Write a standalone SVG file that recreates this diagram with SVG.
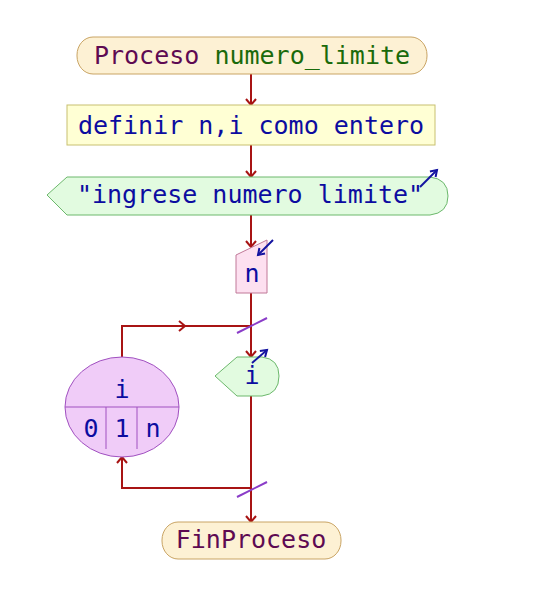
<svg xmlns="http://www.w3.org/2000/svg" width="535" height="594" viewBox="0 0 535 594">
  <style>
    text { font-family: "DejaVu Sans Mono", "Liberation Mono", monospace; font-size: 25px; text-anchor: middle; }
    .kw { fill: #5e0a52; }
    .nm { fill: #1a6a0a; }
    .tx { fill: #0c0ca0; }
    .flow { fill: none; stroke: #a81414; stroke-width: 2; }
    .cut { fill: none; stroke: #8a3cc8; stroke-width: 2; }
    .io { fill: none; stroke: #1414a0; stroke-width: 2; }
    .term { fill: #fdf1d4; stroke: #c9a464; stroke-width: 1; }
    .proc { fill: #ffffd4; stroke: #c8c070; stroke-width: 1; }
    .out { fill: #e2fbe0; stroke: #6cb86c; stroke-width: 1; }
    .in { fill: #fde0f0; stroke: #c07898; stroke-width: 1; }
    .loop { fill: #f0ccf8; stroke: #a050c0; stroke-width: 1; }
  </style>
  <defs>
    <marker id="arr" markerUnits="userSpaceOnUse" markerWidth="14" markerHeight="14" refX="0" refY="0" orient="auto" overflow="visible">
      <path d="M-6,-5 L0,0 L-6,5" fill="none" stroke="#a81414" stroke-width="2"/>
    </marker>
    <marker id="ioarr" markerUnits="userSpaceOnUse" markerWidth="12" markerHeight="12" refX="0" refY="0" orient="auto" overflow="visible">
      <path d="M-6,-4 L0,0 L-6,4" fill="none" stroke="#1414a0" stroke-width="2"/>
    </marker>
  </defs>

  <g id="connectors">
    <path class="flow" d="M251,74 V105" marker-end="url(#arr)"/>
    <path class="flow" d="M251,145 V177" marker-end="url(#arr)"/>
    <path class="flow" d="M251,215 V247" marker-end="url(#arr)"/>
    <path class="flow" d="M251,293 V357" marker-end="url(#arr)"/>
    <path class="flow" d="M122,357 V326 H185" marker-end="url(#arr)"/>
    <path class="flow" d="M185,326 H251"/>
    <path class="flow" d="M251,396 V522" marker-end="url(#arr)"/>
    <path class="flow" d="M251,488 H122 V457" marker-end="url(#arr)"/>
    <path class="cut" d="M237,333 L267,318"/>
    <path class="cut" d="M237,497 L267,482"/>
  </g>

  <g id="start">
    <rect class="term" x="77" y="37" width="350" height="37" rx="16" ry="18"/>
    <text x="252" y="64"><tspan class="kw">Proceso</tspan> <tspan class="nm">numero_limite</tspan></text>
  </g>

  <g id="define">
    <rect class="proc" x="67" y="105" width="368" height="40"/>
    <text class="tx" x="251" y="134">definir n,i como entero</text>
  </g>

  <g id="print-prompt">
    <path class="out" d="M47,195 L67,177 L430,177 Q448,179 448,196 Q448,213 430,215 L67,215 Z"/>
    <text class="tx" x="250" y="203">"ingrese numero limite"</text>
    <path class="io" d="M420,187 L437,170" marker-end="url(#ioarr)"/>
  </g>

  <g id="read-n">
    <path class="in" d="M236,255 L267,240 V293 H236 Z"/>
    <text class="tx" x="252" y="282">n</text>
    <path class="io" d="M273,240 L258,255" marker-end="url(#ioarr)"/>
  </g>

  <g id="for-loop">
    <ellipse class="loop" cx="122" cy="407" rx="57" ry="50"/>
    <path class="loop" d="M65,407 H179 M106,407 V449 M137,407 V449" fill="none"/>
    <text class="tx" x="122" y="398">i</text>
    <text class="tx" x="91" y="437">0</text>
    <text class="tx" x="122" y="437">1</text>
    <text class="tx" x="153" y="437">n</text>
  </g>

  <g id="print-i">
    <path class="out" d="M215,376 L237,357 L262,357 Q279,359 279,376 Q279,394 262,396 L237,396 Z"/>
    <text class="tx" x="252" y="384">i</text>
    <path class="io" d="M252,363 L267,350" marker-end="url(#ioarr)"/>
  </g>

  <g id="end">
    <rect class="term" x="162" y="522" width="179" height="37" rx="16" ry="18"/>
    <text class="kw" x="251" y="548">FinProceso</text>
  </g>
</svg>
